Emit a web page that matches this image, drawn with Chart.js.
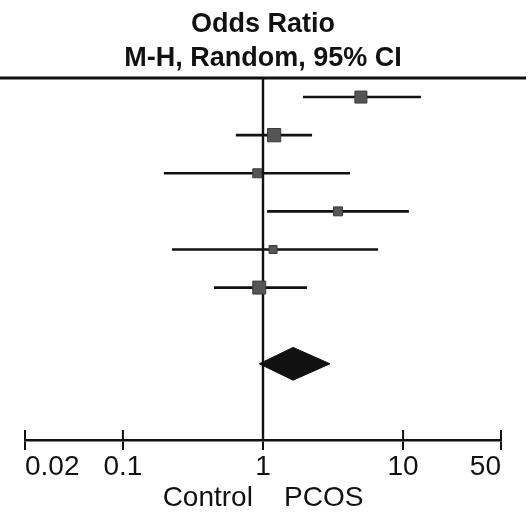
<!DOCTYPE html>
<html lang="en">
<head>
<meta charset="UTF-8">
<script src="https://cdn.jsdelivr.net/npm/chart.js"></script>
<title>Odds Ratio forest plot</title>
<style>
  body { margin: 0; background: #fff; }
  #wrap { width: 531px; height: 512px; }
</style>
</head>
<body>
<div id="wrap"><canvas id="forest"></canvas></div>
<script>
  // study rows, top to bottom
  const rows = [1, 2, 3, 4, 5, 6];
  const oddsRatio = [5.0, 1.2, 0.91, 3.43, 1.18, 0.94];
  const ciLow = [1.93, 0.64, 0.196, 1.07, 0.224, 0.447];
  const ciHigh = [13.4, 2.24, 4.18, 11.0, 6.63, 2.06];
  const weights = [18, 22, 10, 10, 8, 21];

  // pooled (total) estimate
  const totalRow = 8;
  const totalOR = 1.64;
  const totalLow = 0.94;
  const totalHigh = 3.01;

  const tickValues = [0.02, 0.1, 1, 10, 50];
  const tickLabels = ['0.02', '0.1', '1', '10', '50'];

  const FONT = "'Liberation Sans', Arial, sans-serif";
  const INK = '#111';
  const DIAMOND_H = 0.43;

  const datasets = [];

  // study squares (drawn on top)
  datasets.push({
    data: rows.map((r, i) => ({ x: oddsRatio[i], y: r })),
    pointStyle: 'rect',
    pointRadius: weights.map(w => 2 * Math.sqrt(w)),
    backgroundColor: '#555',
    borderColor: '#3a3a3a',
    borderWidth: 1,
    showLine: false
  });

  // confidence interval whiskers
  rows.forEach((r, i) => {
    datasets.push({
      data: [{ x: ciLow[i], y: r }, { x: ciHigh[i], y: r }],
      showLine: true,
      borderColor: INK,
      borderWidth: 2.6,
      pointRadius: 0
    });
  });

  // pooled diamond: lower half, then upper half filled to it
  datasets.push({
    data: [{ x: totalLow, y: totalRow }, { x: totalOR, y: totalRow + DIAMOND_H }, { x: totalHigh, y: totalRow }],
    showLine: true,
    borderColor: INK,
    borderWidth: 1,
    pointRadius: 0,
    tension: 0
  });
  datasets.push({
    data: [{ x: totalLow, y: totalRow }, { x: totalOR, y: totalRow - DIAMOND_H }, { x: totalHigh, y: totalRow }],
    showLine: true,
    borderColor: INK,
    backgroundColor: INK,
    borderWidth: 1,
    pointRadius: 0,
    tension: 0,
    fill: '-1'
  });

  // line of no effect
  datasets.push({
    data: [{ x: 1, y: 0.5 }, { x: 1, y: 10 }],
    showLine: true,
    borderColor: INK,
    borderWidth: 2.4,
    pointRadius: 0
  });

  // top rule and the upper half of the axis ticks
  const extras = {
    id: 'extras',
    afterDraw(chart) {
      const ctx = chart.ctx;
      const area = chart.chartArea;
      const xs = chart.scales.x;
      ctx.save();
      ctx.strokeStyle = INK;
      ctx.lineWidth = 3;
      ctx.beginPath();
      ctx.moveTo(0, area.top);
      ctx.lineTo(chart.width - 5, area.top);
      ctx.stroke();
      ctx.lineWidth = 2;
      ctx.beginPath();
      tickValues.forEach(v => {
        const px = xs.getPixelForValue(v);
        ctx.moveTo(px, xs.top - 10);
        ctx.lineTo(px, xs.top);
      });
      ctx.stroke();
      ctx.restore();
    }
  };

  new Chart(document.getElementById('forest'), {
    type: 'scatter',
    data: { datasets: datasets },
    options: {
      responsive: true,
      maintainAspectRatio: false,
      animation: false,
      layout: { padding: { left: 25, right: 30, top: 0, bottom: 0 } },
      plugins: {
        legend: { display: false },
        tooltip: { enabled: false },
        title: {
          display: true,
          text: ['Odds Ratio', 'M-H, Random, 95% CI'],
          color: INK,
          font: { family: FONT, size: 27, weight: 'bold', lineHeight: 1.25 },
          padding: { top: 8, bottom: 2.5 }
        }
      },
      scales: {
        x: {
          type: 'logarithmic',
          min: 0.02,
          max: 50,
          position: 'bottom',
          afterBuildTicks: s => { s.ticks = tickValues.map(v => ({ value: v })); },
          ticks: {
            align: 'inner',
            autoSkip: false,
            maxRotation: 0,
            padding: 3,
            color: INK,
            font: { family: FONT, size: 28, lineHeight: 1 },
            callback: (v, i) => tickLabels[i]
          },
          grid: { drawOnChartArea: false, drawTicks: true, tickLength: 10, color: INK, lineWidth: 2 },
          border: { display: true, color: INK, width: 2.5 },
          title: {
            display: true,
            text: 'Control    PCOS',
            color: INK,
            font: { family: FONT, size: 28, lineHeight: 1 },
            padding: { top: 0, bottom: 0 }
          }
        },
        y: {
          type: 'linear',
          min: 0.5,
          max: 10,
          reverse: true,
          display: false
        }
      }
    },
    plugins: [extras]
  });
</script>
</body>
</html>
